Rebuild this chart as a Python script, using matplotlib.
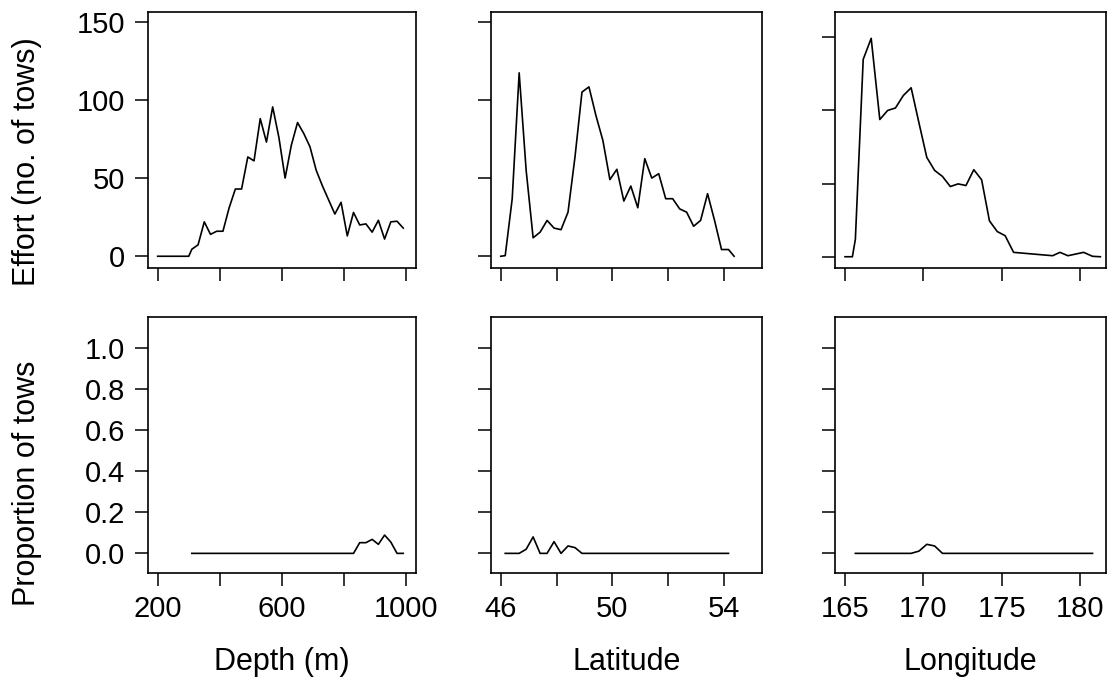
import matplotlib
matplotlib.use("Agg")
import matplotlib.pyplot as plt

plt.rcParams['font.family'] = ['Liberation Sans', 'DejaVu Sans']

# Effort (number of tows) by depth, latitude, longitude
depth = [200, 300, 310, 330, 350, 370, 390, 410, 430, 450, 470, 490, 510, 530, 550,
         570, 590, 610, 630, 650, 670, 690, 710, 730, 750, 770, 790, 810, 830, 850,
         870, 890, 910, 930, 950, 970, 990]
effort_depth = [0, 0, 4.5, 7.3, 22, 14, 16, 16, 31, 43, 43, 63.5, 61, 88, 73, 95.5,
                76, 50, 71, 85.5, 78.5, 70, 55, 45, 36, 27, 34.5, 13, 28, 20, 20.7,
                15.4, 23, 11, 22, 22.4, 18]

lat = [46.0, 46.16, 46.41, 46.66, 46.91, 47.16, 47.41, 47.66, 47.91, 48.16, 48.41,
       48.66, 48.91, 49.16, 49.41, 49.66, 49.91, 50.16, 50.41, 50.66, 50.91, 51.16,
       51.41, 51.66, 51.91, 52.16, 52.41, 52.66, 52.91, 53.16, 53.41, 53.66, 53.91,
       54.16, 54.36]
effort_lat = [0, 0.4, 36.7, 117.3, 55, 11.8, 15.4, 22.9, 18, 17, 28.2, 63.5, 105,
              108.3, 90, 74, 49, 55.6, 35.3, 44.9, 31, 62.4, 50, 52.8, 36.8, 36.8,
              30.3, 28.2, 19.2, 22.9, 40, 22.9, 4.3, 4.3, 0]

lon = [165.0, 165.47, 165.66, 166.16, 166.67, 167.22, 167.72, 168.22, 168.72, 169.22,
       169.72, 170.22, 170.72, 171.22, 171.72, 172.22, 172.72, 173.22, 173.72, 174.22,
       174.72, 175.22, 175.76, 178.25, 178.72, 179.23, 180.23, 180.8, 181.3]
effort_lon = [0, 0, 11.9, 134.9, 149.3, 93.8, 100, 101.7, 110.2, 115.5, 91.5, 67.9,
              59, 54.9, 48, 49.8, 48.7, 59.5, 52.6, 24.5, 17.2, 14.4, 3.0, 0.7, 3.0,
              0.7, 3.0, 0.3, 0]

# Proportion of tows (only where effort > 0)
depth_p = [310, 330, 350, 370, 390, 410, 430, 450, 470, 490, 510, 530, 550, 570, 590,
           610, 630, 650, 670, 690, 710, 730, 750, 770, 790, 810, 830, 850, 870, 890,
           910, 930, 950, 970, 990]
prop_depth = [0] * 27 + [0.052, 0.052, 0.068, 0.044, 0.089, 0.055, 0, 0]

lat_p = lat[1:-1]
prop_lat = [0, 0, 0, 0.02, 0.08, 0, 0, 0.057, 0, 0.036, 0.028, 0] + [0] * 21

lon_p = [165.66, 166.16, 166.67, 167.22, 167.72, 168.22, 168.72, 169.22, 169.72,
         170.22, 170.72, 171.22, 171.72, 172.22, 172.72, 173.22, 173.72, 174.22,
         174.72, 175.22, 175.76, 178.25, 178.72, 179.23, 180.23, 180.8]
prop_lon = [0, 0, 0, 0, 0, 0, 0, 0, 0.011, 0.044, 0.036, 0] + [0] * 14

xlabels = ["Depth (m)", "Latitude", "Longitude"]
xlims = [(168, 1032), (45.64, 55.36), (164.36, 181.64)]
xticks = [[200, 400, 600, 800, 1000], [46, 48, 50, 52, 54], [165, 170, 175, 180]]
xticklabels = [["200", "", "600", "", "1000"], ["46", "", "50", "", "54"],
               ["165", "170", "175", "180"]]
top_ylims = [(-7.7, 156), (-7.7, 156), (-7.9, 167.1)]

W, H = 1112, 681
fig = plt.figure(figsize=(W / 100, H / 100), dpi=100)

lefts = [147.7, 490.7, 835]
widths = [268.6, 271.3, 270.7]
top_row = (12.3, 268.3)
bot_row = (317.3, 572.7)

top_data = [(depth, effort_depth), (lat, effort_lat), (lon, effort_lon)]
bot_data = [(depth_p, prop_depth), (lat_p, prop_lat), (lon_p, prop_lon)]

def make_ax(left, width, row):
    t, b = row
    return fig.add_axes([left / W, 1 - b / H, width / W, (b - t) / H])

for i in range(3):
    for r, (row, data) in enumerate([(top_row, top_data), (bot_row, bot_data)]):
        ax = make_ax(lefts[i], widths[i], row)
        x, y = data[i]
        ax.plot(x, y, color='black', lw=1.2)
        ax.set_xlim(*xlims[i])
        ax.set_xticks(xticks[i])
        if r == 0:
            ax.set_ylim(*top_ylims[i])
            ax.set_yticks([0, 50, 100, 150])
            ax.set_yticklabels(["0", "50", "100", "150"])
            ax.set_xticklabels([])
        else:
            ax.set_ylim(-0.094, 1.148)
            ax.set_yticks([0, 0.2, 0.4, 0.6, 0.8, 1.0])
            ax.set_yticklabels(["0.0", "0.2", "0.4", "0.6", "0.8", "1.0"])
            ax.set_xticklabels(xticklabels[i])
        if i > 0:
            ax.set_yticklabels([])
        for s in ax.spines.values():
            s.set_linewidth(1.2)
        ax.tick_params(direction='out', length=9.4, width=1.1, labelsize=21,
                       pad=7, color='black')

    fig.text((lefts[i] + widths[i] / 2) / W, 1 - 662 / H, xlabels[i],
             ha='center', va='center', fontsize=22)

fig.text(27 / W, 1 - 162 / H, "Effort (no. of tows)", rotation=90,
         ha='center', va='center', fontsize=22)
fig.text(27 / W, 1 - 483 / H, "Proportion of tows", rotation=90,
         ha='center', va='center', fontsize=22)

fig.savefig("out.png", dpi=100)
